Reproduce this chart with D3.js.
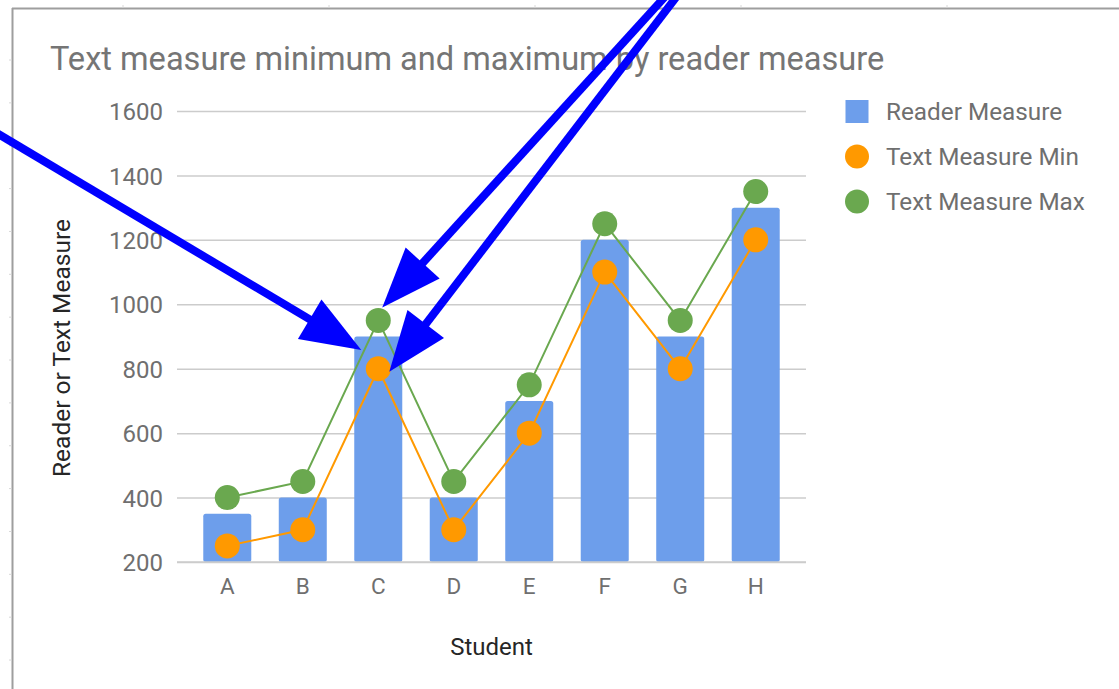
<!DOCTYPE html>
<html>
<head>
<meta charset="utf-8">
<script src="https://cdn.jsdelivr.net/npm/d3@7"></script>
<style>
  html, body { margin: 0; padding: 0; background: #fff; }
  svg { display: block; font-family: Roboto, "Noto Sans", sans-serif; }
</style>
</head>
<body>
<svg id="chart" width="1119" height="689"></svg>
<script>
// ---- data ----
const categories = ["A", "B", "C", "D", "E", "F", "G", "H"];
const readerMeasure = [350, 400, 900, 400, 700, 1200, 900, 1300];
const textMeasureMin = [250, 300, 800, 300, 600, 1100, 800, 1200];
const textMeasureMax = [400, 450, 950, 450, 750, 1250, 950, 1350];
const yTicks = [200, 400, 600, 800, 1000, 1200, 1400, 1600];
const seriesNames = ["Reader Measure", "Text Measure Min", "Text Measure Max"];
const titleText = "Text measure minimum and maximum by reader measure";
const xTitle = "Student";
const yTitle = "Reader or Text Measure";

// ---- styles ----
const colors = { reader: "#6d9eeb", min: "#ff9900", max: "#6aa84f" };
const svg = d3.select("#chart");

// frame (spreadsheet chart border)
const frame = svg.append("g");
frame.append("line").attr("x1", 12.5).attr("x2", 12.5).attr("y1", 8).attr("y2", 689)
  .attr("stroke", "#9e9e9e").attr("stroke-width", 2);
frame.append("line").attr("x1", 12).attr("x2", 1119).attr("y1", 8.5).attr("y2", 8.5)
  .attr("stroke", "#9e9e9e").attr("stroke-width", 2);
d3.range(123, 1119, 206).forEach(px => {
  frame.append("line").attr("x1", px).attr("x2", px).attr("y1", 5).attr("y2", 7.5)
    .attr("stroke", "#d8d8d8").attr("stroke-width", 1);
});
d3.range(0, 15).forEach(i => {
  const py = 60 + i * 42.86;
  frame.append("line").attr("x1", 9).attr("x2", 11.5).attr("y1", py).attr("y2", py)
    .attr("stroke", "#d8d8d8").attr("stroke-width", 1);
});

// scales
const x = d3.scaleBand().domain(categories).range([177, 806])
  .paddingInner(0.364).paddingOuter(0.348);
const y = d3.scaleLinear().domain([200, 1600]).range([562, 111]);

// title
svg.append("text").attr("x", 50).attr("y", 70)
  .attr("font-size", 32.6).attr("fill", "#757575").text(titleText);

// gridlines + y axis
const yAxis = d3.axisLeft(y).tickValues(yTicks).tickSize(-(806 - 177)).tickPadding(14)
  .tickFormat(d3.format("d"));
const gy = svg.append("g").attr("transform", "translate(177,0)").call(yAxis);
gy.select(".domain").remove();
gy.selectAll(".tick line").attr("stroke", "#cccccc").attr("stroke-width", 1.5);
gy.selectAll(".tick text").attr("font-size", 24).attr("fill", "#6f6f6f")
  .attr("font-family", "Roboto, sans-serif").attr("dy", "0.36em");

// x axis labels
const xAxis = d3.axisBottom(x).tickSize(0).tickPadding(16);
const gx = svg.append("g").attr("transform", `translate(0,${y(200)})`).call(xAxis);
gx.select(".domain").remove();
gx.selectAll(".tick text").attr("font-size", 22.5).attr("fill", "#6f6f6f")
  .attr("font-family", "Roboto, sans-serif");

// bars
svg.append("g").selectAll("rect").data(categories).join("rect")
  .attr("x", d => x(d))
  .attr("y", (d, i) => y(readerMeasure[i]))
  .attr("width", x.bandwidth())
  .attr("height", (d, i) => y(200) - y(readerMeasure[i]))
  .attr("rx", 2.5)
  .attr("fill", colors.reader);

// baseline over bars
svg.append("line").attr("x1", 177).attr("x2", 806).attr("y1", y(200)).attr("y2", y(200))
  .attr("stroke", "#cccccc").attr("stroke-width", 1.5);

// lines + points
const cx = d => x(d) + x.bandwidth() / 2;
function series(values, color) {
  const line = d3.line().x((d, i) => cx(categories[i])).y(d => y(d));
  svg.append("path").datum(values).attr("d", line)
    .attr("fill", "none").attr("stroke", color).attr("stroke-width", 2);
  svg.append("g").selectAll("circle").data(values).join("circle")
    .attr("cx", (d, i) => cx(categories[i])).attr("cy", d => y(d))
    .attr("r", 12.5).attr("fill", color);
}
series(textMeasureMin, colors.min);
series(textMeasureMax, colors.max);

// axis titles
svg.append("text").attr("x", 491.5).attr("y", 655)
  .attr("text-anchor", "middle").attr("font-size", 24).attr("fill", "#262626").text(xTitle);
svg.append("text").attr("transform", "translate(70,348) rotate(-90)")
  .attr("text-anchor", "middle").attr("font-size", 24.5).attr("fill", "#262626").text(yTitle);

// legend
const legend = svg.append("g");
const legendY = [111.5, 156.5, 201.5];
legend.append("rect").attr("x", 845.5).attr("y", legendY[0] - 11.5).attr("width", 23).attr("height", 23)
  .attr("fill", colors.reader);
legend.append("circle").attr("cx", 857).attr("cy", legendY[1]).attr("r", 12).attr("fill", colors.min);
legend.append("circle").attr("cx", 857).attr("cy", legendY[2]).attr("r", 12).attr("fill", colors.max);
seriesNames.forEach((n, i) => {
  legend.append("text").attr("x", 886).attr("y", legendY[i] + 8)
    .attr("font-size", 24.3).attr("fill", "#6f6f6f").text(n);
});

// annotation arrows (blue) pointing at student C
const ci = categories.indexOf("C");
const barLeft = x("C"), cC = cx("C");
const arrows = [
  { from: [0, 135], to: [barLeft + 7, y(readerMeasure[ci]) + 13.5] },
  { from: [662, 0], to: [cC + 4, y(textMeasureMax[ci]) - 13] },
  { from: [674, 0], to: [cC + 11, y(textMeasureMin[ci]) + 3] }
];
const arrowG = svg.append("g");
const headLen = 60, headW = 46;
arrows.forEach(a => {
  const [x0, y0] = a.from, [x1, y1] = a.to;
  const dx = x1 - x0, dy = y1 - y0, L = Math.hypot(dx, dy);
  const ux = dx / L, uy = dy / L;
  const bx = x1 - ux * headLen, by = y1 - uy * headLen;
  arrowG.append("line").attr("x1", x0 - ux * 20).attr("y1", y0 - uy * 20)
    .attr("x2", bx + ux * 4).attr("y2", by + uy * 4)
    .attr("stroke", "#0000ff").attr("stroke-width", 8);
  const px = -uy, py = ux;
  arrowG.append("path")
    .attr("d", `M${x1},${y1}L${bx + px * headW / 2},${by + py * headW / 2}L${bx - px * headW / 2},${by - py * headW / 2}Z`)
    .attr("fill", "#0000ff");
});
</script>
</body>
</html>
